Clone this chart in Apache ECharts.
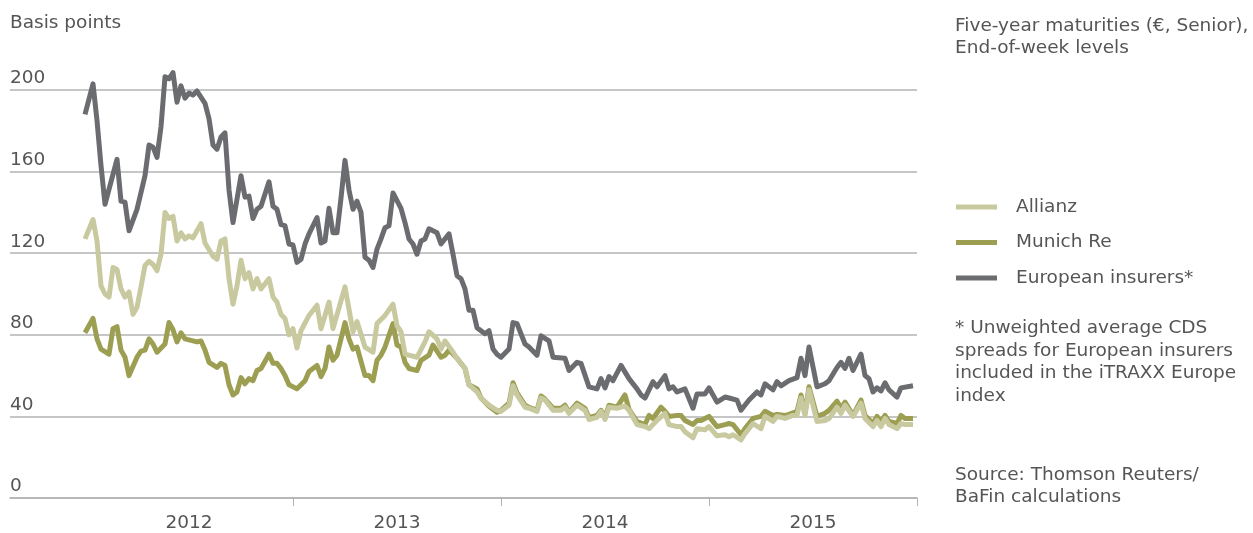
<!DOCTYPE html>
<html>
<head>
<meta charset="utf-8">
<script src="https://cdn.jsdelivr.net/npm/echarts@6/dist/echarts.min.js"></script>
<style>
  html, body { margin: 0; padding: 0; background: #fff; }
  #chart { width: 1253px; height: 533px; }
</style>
</head>
<body>
<div id="chart"></div>
<script>
// weeks counted from the first week of 2012, values in basis points
var euroWeeks = [0,2,3,4,5,8,9,10,11,13,15,16,17,18,19,20,21,22,23,24,25,26,27,28,30,31,32,33,34,35,36,37,39,40,41,42,43,44,46,47,48,49,50,51,52,53,54,55,56,58,59,60,61,62,63,64,65,66,67,68,69,70,71,72,73,74,75,76,77,79,80,81,82,83,84,85,86,88,89,91,92,93,94,95,96,97,98,100,101,102,103,104,106,107,108,110,111,113,114,116,117,120,121,123,124,126,128,129,130,131,132,134,136,138,139,140,142,143,145,146,147,148,150,152,153,154,155,156,158,160,161,163,164,166,168,169,170,172,173,174,176,178,179,180,181,183,185,186,188,189,190,191,192,194,195,196,197,198,199,200,201,203,204,207];
var euroVals = [188,203,185,163,144,166,145.5,145,131,141.5,158,173,172,167,182,206.5,205.5,208.5,194,202,196,198.5,197.5,199.5,193.5,186,173,171,177,179,151,135,158,147.5,148,137,141.5,143,155,143,141.5,134,133.5,124.5,124,115.5,117,124.5,129.5,137.5,125,126,142,130,130,147,165.5,151,141.5,145.5,140,118,116.5,113,122,127,132.5,133.5,149.5,142,135,127,124.5,119.5,126,127,132,130,124.5,129.5,119.5,109,107.5,102.5,92,92,83.5,80.5,82,73,70.5,69,73,86,85.5,75.5,74,70,79.5,77,69,68.5,62.5,66.5,66,54.5,53.5,58.5,54,59.5,57.5,65,58.5,53.5,50.5,49,57,54.5,60,53.5,54.5,52,53.5,44,51,51,51,54,47,49.5,49,48,43,48,52,50.5,56,53,57,55,57.5,59,68.5,60,74,54.5,56,57.5,64,66.5,63.5,68.5,62.5,70.5,60,58.5,52,54,52.5,56.5,53,49.5,54,55];

var munichWeeks = [0,2,3,4,6,7,8,9,10,11,13,14,15,16,17,18,20,21,22,23,24,25,27,28,29,30,31,33,34,35,36,37,38,39,40,41,42,43,44,46,47,48,49,50,51,53,55,56,58,59,60,61,62,63,65,66,67,68,70,71,72,73,74,75,77,78,79,80,81,83,84,86,87,89,90,91,93,95,96,98,99,101,103,104,106,107,108,110,111,113,114,115,117,119,120,121,123,125,126,128,129,130,131,133,135,136,138,140,141,142,144,145,146,148,149,150,152,153,154,155,156,158,160,161,162,164,165,167,169,170,172,173,175,176,178,179,180,181,183,185,186,188,189,190,192,194,195,197,198,199,200,201,203,204,205,207];
var munichVals = [81,88,78,73,70.5,83,84,72.5,69,60,69,72,72.5,78,75.5,71.5,75.5,86,82.5,76.5,81,78,77,76.5,77,72.5,66.5,64,66,65,55.5,50.5,52,59,56,58.5,57.5,62.5,63.5,70.5,66,66,63.5,60,55.5,53.5,57.5,62,65,59.5,63.5,74,67.5,70,86,78,73,74,60,60,57.5,67.5,70,74,85.5,75,74,66.5,63.5,62.5,67.5,70,75,69,70,72.5,68.5,63.5,55.5,53.5,49,45,42,43,46.5,56.5,51.5,45.5,44.5,43,50,48.5,44,44,45.5,42,46.5,44,39.5,40.5,43,39.5,45.5,44.5,50.5,43.5,37.5,36,40.5,39,44.5,42.5,40,40.5,40.5,38,36,38,38,39,40,35,36,36.5,36,31,34,39,40,42.5,40.5,41,40.5,41,42.5,50.5,41.5,54.5,40,41.5,43,47.5,44,47,40.5,48,40.5,36.5,40,37.5,40.5,37.5,36.5,40.5,39,39];

var allianzWeeks = [0,2,3,4,5,6,7,8,9,10,11,12,13,14,15,16,17,18,19,20,21,22,23,24,25,26,27,29,30,32,33,34,35,36,37,38,39,40,41,42,43,44,46,47,48,49,50,51,52,53,54,56,58,59,61,62,65,67,68,70,72,73,75,77,78,79,80,83,85,86,88,89,90,92,93,95,96,98,99,101,103,104,106,107,108,110,111,113,114,115,117,119,120,121,123,125,126,128,129,130,131,133,135,136,138,140,141,142,143,145,146,148,149,150,152,153,155,156,158,160,161,162,164,165,167,169,170,172,173,175,177,178,179,180,181,183,185,186,188,189,190,192,194,195,197,198,199,200,201,203,204,205,207];
var allianzVals = [127,136.5,126,104,100,98.5,113,112,102.5,98.5,101,90,93.5,103.5,114,116,114.5,111.5,119.5,140,137,138,126,130,127,128.5,127.5,134.5,125,118.5,117,126,127,107.5,95,104,116.5,107.5,110.5,102.5,107.5,102.5,107.5,98.5,96,90,88,80,83,73.5,82,89.5,94.5,83,96,83,103.5,81.5,86.5,74,71.5,85.5,89.5,95,84.5,81.5,70.5,69,76.5,81.5,78,73,77,71.5,68.5,63.5,55.5,52,49,45.5,43,42.5,45.5,55,50.5,44.5,44,42.5,49,48,43,43,44.5,41.5,45.5,43,38.5,39.5,42.5,38.5,44.5,44,45,43,36,35,34,36,38,41.5,36,35,35,32.5,29.5,34,33.5,35,30.5,31,30,31,28.5,31.5,36.5,34,40,37.5,40,39,40.5,40.5,49,40.5,53,37.5,38,39,44.5,41.5,45.5,40,46.5,39,35,38,35,39,36,34,36.5,36,36];

var yearLabels = ['2012', '2013', '2014', '2015'];
var yearMid = [26, 78, 130, 182];
var yearEnds = [52, 104, 156, 208];

function pairs(weeks, vals){
	var out = [];
	for (var i = 0; i < weeks.length; i++) {
		out.push([weeks[i], vals[i]]);
	}
	return out;
}

var myChart = echarts.init(document.getElementById('chart'));
var font = 'DejaVu Sans';
var fs = 18.5;
var txt = '#555555';

var option = {
	animation: false,
	textStyle: { fontFamily: font },
	grid: {
		left: 10,
		right: 336,
		top: 90,
		bottom: 32
	},
	legend: {
		orient: 'vertical',
		left: 951,
		top: 191,
		itemWidth: 41,
		itemHeight: 5,
		itemGap: 13.5,
		icon: 'rect',
		data: ['Allianz', 'Munich Re', 'European insurers*'],
		textStyle: {
			color: txt,
			fontSize: fs,
			fontFamily: font,
			lineHeight: 20,
			padding: [0, 0, 2, 14]
		}
	},
	xAxis: {
		type: 'value',
		min: -18.75,
		max: 208,
		splitLine: { show: false },
		axisLine: {
			show: true,
			lineStyle: { color: '#b3b3b3', width: 1.5 }
		},
		axisTick: {
			show: true,
			length: 8,
			customValues: yearEnds,
			lineStyle: { color: '#b3b3b3', width: 1 }
		},
		axisLabel: {
			customValues: yearMid,
			margin: 16,
			color: txt,
			fontSize: fs,
			fontFamily: font,
			formatter: function (v) {
				return yearLabels[yearMid.indexOf(v)];
			}
		}
	},
	yAxis: {
		type: 'value',
		min: 0,
		max: 200,
		interval: 40,
		axisLine: { show: false },
		axisTick: { show: false },
		splitLine: {
			show: true,
			lineStyle: { color: '#b3b3b3', width: 1.5 }
		},
		axisLabel: {
			inside: true,
			margin: 0,
			align: 'left',
			verticalAlign: 'bottom',
			padding: [0, 0, 2, 0],
			color: txt,
			fontSize: fs,
			fontFamily: font,
			showMinLabel: true
		}
	},
	graphic: [
		{ type: 'text', left: 10, top: 14, style: { text: 'Basis points', fill: txt, font: fs + 'px ' + font } },
		{ type: 'text', left: 955, top: 15, style: { text: 'Five-year maturities (€, Senior),\nEnd-of-week levels', fill: txt, font: fs + 'px ' + font, lineHeight: 22 } },
		{ type: 'text', left: 955, top: 317, style: { text: '* Unweighted average CDS\nspreads for European insurers\nincluded in the iTRAXX Europe\nindex', fill: txt, font: fs + 'px ' + font, lineHeight: 22.5 } },
		{ type: 'text', left: 955, top: 464, style: { text: 'Source: Thomson Reuters/\nBaFin calculations', fill: txt, font: fs + 'px ' + font, lineHeight: 22 } }
	],
	series: [
		{
			name: 'European insurers*',
			type: 'line',
			clip: false,
			showSymbol: false,
			data: pairs(euroWeeks, euroVals),
			itemStyle: { color: '#6b6c70' },
			lineStyle: { color: '#6b6c70', width: 5, join: 'round' }
		},
		{
			name: 'Munich Re',
			type: 'line',
			clip: false,
			showSymbol: false,
			data: pairs(munichWeeks, munichVals),
			itemStyle: { color: '#9c9e52' },
			lineStyle: { color: '#9c9e52', width: 5, join: 'round' }
		},
		{
			name: 'Allianz',
			type: 'line',
			clip: false,
			showSymbol: false,
			data: pairs(allianzWeeks, allianzVals),
			itemStyle: { color: '#c9c9a0' },
			lineStyle: { color: '#c9c9a0', width: 5, join: 'round' }
		}
	]
};
myChart.setOption(option);
window.addEventListener("resize", function () {
	myChart.resize();
});
</script>
</body>
</html>
